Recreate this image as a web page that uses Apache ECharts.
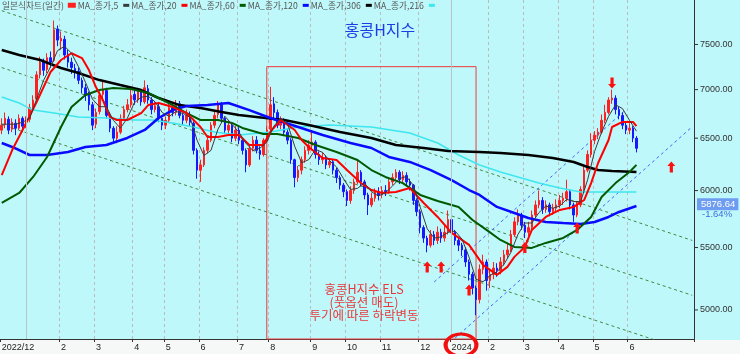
<!DOCTYPE html>
<html><head><meta charset="utf-8">
<script src="https://cdn.jsdelivr.net/npm/echarts/dist/echarts.min.js"></script>
<style>html,body{margin:0;padding:0;background:#fff}#c{width:740px;height:354px}</style>
</head><body><div id="c"></div>
<script>
// ---- data (each slot = 2 trading days) ----
const slotCount = 199;
const monthSlots  = [0,17,27,38,47,57,68,77,89,99,109,120,129,140,150,160,170,180];
const monthLabels = ['2022/12','2','3','4','5','6','7','8','9','10','11','12','2024','2','3','4','5','6'];
const yearLineSlots = [7,129];
const yTicks = [5000,5500,6000,6500,7000,7500];
const yMin = 4783, yMax = 8027;

// [open, close, low, high]
const candles = [
[6580,6630,6540,6700],[6640,6700,6600,6760],[6690,6580,6540,6720],[6590,6660,6560,6700],[6650,6600,6530,6690],
[6600,6700,6580,6740],[6700,6620,6560,6720],[6620,6680,6600,6720],[6690,6810,6660,6850],[6800,6890,6780,6940],
[6900,7160,6880,7200],[7160,7300,7120,7360],[7300,7210,7150,7340],[7220,7350,7180,7400],[7350,7300,7240,7420],
[7320,7670,7300,7780],[7680,7550,7480,7720],[7540,7570,7440,7650],[7560,7380,7330,7600],[7390,7300,7240,7440],
[7300,7240,7170,7350],[7230,7190,7120,7280],[7200,7100,7060,7240],[7100,7020,6960,7130],[7020,6940,6880,7060],
[6950,6840,6780,6980],[6840,6630,6580,6870],[6640,6760,6600,6800],[6770,6940,6740,6980],[6950,7000,6900,7100],
[6990,6730,6700,7020],[6730,6600,6560,6760],[6600,6500,6460,6620],[6500,6560,6450,6620],[6560,6700,6540,6740],
[6700,6790,6680,6830],[6790,6840,6760,6900],[6840,6940,6810,7000],[6950,6890,6840,7010],[6890,6980,6860,7020],
[6980,6870,6830,7000],[6870,7020,6850,7100],[7010,6890,6850,7050],[6890,6790,6740,6920],[6790,6830,6760,6880],
[6820,6700,6660,6850],[6700,6630,6580,6730],[6630,6680,6590,6720],[6680,6810,6660,6850],[6810,6760,6720,6860],
[6760,6850,6730,6890],[6850,6730,6700,6880],[6730,6680,6630,6760],[6680,6730,6650,6790],[6730,6660,6620,6770],
[6650,6380,6340,6670],[6380,6190,6110,6400],[6190,6240,6080,6290],[6240,6380,6220,6410],[6380,6480,6350,6520],
[6480,6630,6460,6660],[6630,6730,6600,6770],[6740,6840,6700,6880],[6840,6700,6660,6870],[6700,6580,6540,6720],
[6580,6630,6550,6680],[6630,6500,6460,6650],[6500,6580,6470,6620],[6580,6480,6440,6610],[6480,6380,6340,6500],
[6380,6240,6170,6400],[6240,6400,6220,6430],[6400,6480,6370,6520],[6480,6380,6350,6520],[6380,6340,6290,6420],
[6340,6480,6320,6500],[6480,6580,6460,6620],[6590,6840,6570,7030],[6850,6760,6700,6920],[6760,6630,6600,6790],
[6630,6680,6590,6720],[6680,6560,6520,6700],[6560,6480,6440,6590],[6480,6290,6250,6500],[6290,6120,6030,6300],
[6120,6190,6080,6230],[6190,6290,6150,6320],[6290,6380,6260,6420],[6380,6430,6340,6480],[6430,6460,6380,6580],
[6460,6340,6300,6480],[6340,6290,6240,6370],[6290,6310,6250,6360],[6310,6240,6200,6330],[6240,6270,6210,6300],
[6270,6190,6150,6290],[6190,6120,6070,6210],[6120,6050,6010,6140],[6050,5990,5940,6070],[5990,5910,5860,6010],
[5910,6000,5880,6040],[6000,6080,5970,6110],[6080,6170,6060,6290],[6170,6080,6040,6190],[6080,5960,5920,6100],
[5960,5870,5780,5980],[5870,5930,5850,5980],[5930,5990,5900,6020],[5990,5960,5910,6030],[5960,6000,5930,6040],
[6000,5990,5950,6050],[5990,6080,5970,6110],[6080,6120,6050,6160],[6120,6170,6090,6200],[6170,6100,6060,6190],
[6100,6140,6070,6180],[6140,6080,6050,6170],[6080,6050,6000,6110],[6050,5910,5870,6060],[5910,5810,5770,5930],
[5810,5670,5620,5830],[5670,5580,5540,5690],[5580,5520,5460,5600],[5520,5610,5500,5650],[5610,5560,5520,5640],
[5560,5630,5530,5680],[5630,5580,5540,5660],[5580,5630,5550,5690],[5630,5740,5610,5820],[5740,5630,5590,5760],
[5630,5560,5520,5650],[5560,5520,5470,5590],[5520,5480,5430,5540],[5480,5380,5340,5500],[5380,5280,5230,5400],
[5280,5170,5120,5300],[5170,5080,4960,5190],[5080,5320,5050,5360],[5320,5380,5280,5440],[5380,5230,5150,5400],
[5230,5280,5170,5320],[5280,5330,5240,5380],[5330,5310,5260,5370],[5310,5380,5280,5420],[5380,5440,5350,5480],
[5440,5480,5410,5540],[5480,5610,5460,5650],[5610,5720,5590,5760],[5720,5780,5690,5830],[5780,5690,5650,5800],
[5690,5630,5580,5720],[5630,5670,5600,5720],[5670,5780,5650,5820],[5780,5870,5760,5910],[5870,5910,5840,6000],
[5910,5830,5790,5940],[5830,5870,5800,5910],[5870,5810,5770,5890],[5810,5840,5780,5880],[5840,5870,5800,5920],
[5870,5910,5840,5960],[5910,5930,5870,5980],[5930,5990,5900,6100],[5990,5870,5830,6010],[5870,5780,5720,5890],
[5780,5870,5760,5900],[5870,6010,5850,6040],[6010,6190,5990,6220],[6190,6340,6170,6380],[6340,6480,6310,6550],
[6480,6530,6440,6570],[6530,6560,6490,6600],[6560,6680,6540,6740],[6680,6760,6650,6840],[6760,6890,6740,6920],
[6890,6910,6850,7000],[6910,6790,6740,6940],[6790,6730,6690,6820],[6730,6630,6590,6760],[6630,6580,6540,6660],
[6580,6600,6540,6650],[6600,6500,6460,6620],[6500,6400,6360,6520]
];

const ma5 = [[0,6640],[2,6640],[4,6640],[6,6660],[8,6700],[10,6900],[12,7100],[14,7250],[16,7430],[18,7480],[20,7400],[22,7250],[24,7080],[26,6900],[28,6820],[30,6820],[32,6680],[34,6600],[36,6700],[38,6860],[40,6920],[42,6930],[44,6870],[46,6760],[48,6720],[50,6770],[52,6750],[54,6710],[56,6480],[58,6330],[60,6380],[62,6590],[64,6720],[66,6640],[68,6560],[70,6450],[72,6380],[74,6400],[76,6460],[78,6620],[80,6700],[82,6640],[84,6420],[86,6260],[88,6290],[90,6390],[92,6360],[94,6280],[96,6220],[98,6110],[100,6010],[102,6020],[104,6070],[106,5990],[108,5950],[110,5980],[112,6040],[114,6110],[116,6130],[118,6050],[120,5850],[122,5660],[124,5580],[126,5590],[128,5630],[130,5640],[132,5570],[134,5420],[136,5240],[138,5220],[140,5270],[142,5300],[144,5360],[146,5460],[148,5610],[150,5710],[152,5710],[154,5800],[156,5860],[158,5840],[160,5860],[162,5920],[164,5900],[166,5900],[168,6100],[170,6370],[172,6560],[174,6720],[176,6840],[178,6800],[180,6680],[182,6570]];
const ma20 = [[0,6144],[3,6383],[7,6653],[10,6868],[14,7191],[17,7324],[20,7400],[23,7346],[25,7213],[27,7028],[29,6890],[31,6714],[33,6683],[36,6683],[40,6754],[42,6837],[45,6859],[49,6816],[53,6754],[57,6612],[59,6512],[62,6512],[65,6532],[68,6532],[71,6432],[75,6432],[77,6562],[80,6683],[84,6582],[86,6482],[88,6413],[92,6306],[96,6287],[99,6191],[103,6069],[106,6005],[109,5978],[113,5987],[117,6023],[121,5887],[125,5763],[129,5624],[134,5522],[138,5356],[142,5275],[145,5340],[147,5422],[150,5505],[152,5650],[156,5763],[160,5825],[164,5852],[167,5914],[169,6069],[171,6258],[174,6482],[175,6612],[178,6663],[181,6663],[182,6620]];
const ma60 = [[0,5888],[5,5978],[9,6126],[13,6316],[17,6612],[20,6816],[24,6943],[28,6996],[32,7017],[37,7007],[42,6964],[45,6911],[49,6837],[53,6754],[57,6683],[62,6683],[66,6653],[69,6602],[75,6542],[79,6542],[85,6502],[90,6432],[96,6364],[102,6287],[106,6191],[110,6126],[115,6069],[120,5960],[125,5905],[131,5852],[135,5736],[139,5650],[143,5564],[147,5505],[152,5497],[156,5539],[161,5581],[165,5650],[169,5763],[172,5941],[176,6069],[180,6172],[182,6240]];
const ma120 = [[0,6452],[3,6413],[8,6335],[13,6335],[19,6364],[24,6413],[30,6432],[36,6502],[41,6582],[45,6703],[49,6785],[53,6826],[59,6837],[65,6859],[71,6785],[77,6703],[85,6612],[92,6532],[100,6452],[106,6403],[111,6316],[117,6268],[123,6191],[129,6097],[134,6005],[137,5960],[142,5852],[147,5798],[151,5754],[156,5719],[161,5710],[166,5702],[170,5719],[174,5763],[177,5807],[182,5860]];
const ma306 = [[0,7436],[5,7380],[11,7324],[17,7235],[22,7180],[28,7103],[34,7049],[40,6996],[45,6911],[51,6837],[57,6806],[63,6764],[68,6733],[73,6714],[81,6683],[88,6632],[97,6562],[106,6502],[113,6432],[121,6403],[128,6374],[137,6364],[143,6354],[151,6335],[158,6306],[164,6268],[168,6220],[171,6191],[175,6182],[182,6172]];
const ma216 = [[0,6922],[5,6859],[9,6785],[15,6754],[22,6714],[30,6703],[38,6683],[43,6683],[49,6653],[55,6612],[61,6562],[68,6532],[77,6562],[85,6612],[94,6632],[106,6612],[117,6552],[125,6452],[131,6335],[137,6239],[143,6172],[149,6116],[154,6069],[160,6023],[166,5987],[172,5987],[182,5987]];

const trendDown = [[[0,7897],[198,5560]],[[0,7240],[198,5113]],[[0,6636],[198,4687]]];
const trendUp = [[[124,5218],[179,6791]],[[130,4790],[198,6615]]];
const upArrows = [[122,5339],[126,5339],[134,5155],[150,5500],[165,5667],[192,6220]];
const downArrows = [[175,7071]];
const boxRange = [[76,7250],[136,4783]];
const lastPrice = 5876.64, lastChangeLevel = 5790, lastChange = '-1.64%';

// ---- chart ----
const labelAt = {};
monthSlots.forEach((s,i)=>{labelAt[s]=monthLabels[i];});
const categories = Array.from({length:slotCount},(_,i)=>'s'+i);
const FONT = '"Noto Sans CJK KR", "Liberation Sans", sans-serif';

const arrowPath = 'path://M4,0 L8,5 L5.6,5 L5.6,12 L2.4,12 L2.4,5 L0,5 Z';
const markPts = upArrows.map(c=>({coord:c, symbolRotate:0}))
  .concat(downArrows.map(c=>({coord:c, symbolRotate:180})));

const yLabelLines = yTicks.map(v=>({
  yAxis:v, lineStyle:{color:'transparent',width:0},
  label:{show:true, position:'end', distance:0, formatter:'{t|}{v|'+v.toFixed(2)+'}',
    rich:{t:{width:4,height:1,backgroundColor:'#333',verticalAlign:'middle'},
          v:{padding:[0,0,0,2],color:'#333',fontSize:9,fontFamily:'"Liberation Sans", sans-serif',verticalAlign:'middle'}}}
})).concat([
  {yAxis:lastPrice, lineStyle:{color:'transparent',width:0},
   label:{show:true, position:'end', distance:3, formatter:lastPrice.toFixed(2), color:'#fff', backgroundColor:'#6e9cf0',
     padding:[1,3,1,4], fontSize:9.5, fontFamily:'"Liberation Sans", sans-serif'}},
  {yAxis:lastChangeLevel, lineStyle:{color:'transparent',width:0},
   label:{show:true, position:'end', distance:8, formatter:lastChange, color:'#3a6de0', fontSize:9.5, fontFamily:'"Liberation Sans", sans-serif'}}
]);

function lineSeries(name, data, color, width){
  return {name, type:'line', data, color, showSymbol:false, symbol:'none', z:3, silent:true,
    lineStyle:{color, width}, itemStyle:{color}, animation:false};
}

const series = [
  {name:'일본식차트(일간)', type:'candlestick', data:candles, barWidth:2, z:2,
   itemStyle:{color:'#ff2020', color0:'#1818ff', borderColor:'#ff2020', borderColor0:'#1818ff', borderWidth:1},
   markLine:{silent:true, symbol:['none','none'], animation:false, data:yLabelLines},
   markPoint:{silent:true, symbol:arrowPath, symbolSize:[8,11], itemStyle:{color:'#ff1010'}, label:{show:false}, animation:false, data:markPts},
   markArea:{silent:true, itemStyle:{color:'transparent', borderColor:'#f03a3a', borderWidth:1}, data:[[{xAxis:boxRange[0][0], yAxis:boxRange[0][1]},{xAxis:boxRange[1][0], yAxis:boxRange[1][1]}]]},
   animation:false},
  lineSeries('MA_종가,216', ma216, '#3ee6ee', 1.5),
  lineSeries('MA_종가,306', ma306, '#000000', 2.5),
  lineSeries('MA_종가,120', ma120, '#0a0aff', 2.5),
  lineSeries('MA_종가,60', ma60, '#005a00', 2),
  lineSeries('MA_종가,20', ma20, '#ff0000', 2),
  lineSeries('MA_종가,5', ma5, '#3a3a3a', 1),
];
series[1].markLine = {silent:true, symbol:['none','none'], animation:false, label:{show:false},
  lineStyle:{color:'#b9c4c4', type:'solid', width:1}, data:yearLineSlots.map(s=>({xAxis:s}))};
trendDown.forEach(d=>series.push({type:'line', data:d, showSymbol:false, symbol:'none', silent:true, z:1, animation:false,
  lineStyle:{color:'#3f8a3f', width:1, type:[3,3]}}));
trendUp.forEach(d=>series.push({type:'line', data:d, showSymbol:false, symbol:'none', silent:true, z:1, animation:false,
  lineStyle:{color:'#4a62ff', width:1, type:[3,3]}}));

const chart = echarts.init(document.getElementById('c'), null, {renderer:'canvas'});
chart.setOption({
  animation:false,
  backgroundColor:'#bff8fa',
  textStyle:{fontFamily:FONT},
  grid:{left:0, right:46, top:0, bottom:15, containLabel:false, outerBoundsMode:'none'},
  legend:{left:2, top:1, icon:'rect', itemWidth:6, itemHeight:3, itemGap:2, align:'right', padding:0,
    textStyle:{fontSize:8.7, color:'#555', fontFamily:FONT},
    data:['일본식차트(일간)','MA_종가,5','MA_종가,20','MA_종가,60','MA_종가,120','MA_종가,306','MA_종가,216']},
  xAxis:{type:'category', data:categories, boundaryGap:true,
    axisLine:{lineStyle:{color:'#333'}},
    axisTick:{show:true, interval:(i)=>labelAt[i]!==undefined, length:3, lineStyle:{color:'#333'}},
    axisLabel:{interval:(i)=>labelAt[i]!==undefined, formatter:(v,i)=>labelAt[i]||'', align:'left', margin:4,
      fontSize:9, color:'#222', fontFamily:'"Liberation Sans", sans-serif'},
    splitLine:{show:true, interval:(i)=>labelAt[i]!==undefined && yearLineSlots.indexOf(i)<0 && i!==0,
      lineStyle:{color:'#bbbbbb', type:[3,3], width:1}}},
  yAxis:{type:'log', position:'right', min:yMin, max:yMax, logBase:10,
    axisLine:{show:true, lineStyle:{color:'#333'}}, axisTick:{show:false}, axisLabel:{show:false}, splitLine:{show:false}},
  graphic:[
    {type:'rect', z:-10, shape:{x:0,y:340,width:740,height:14}, style:{fill:'#f6f7f7'}},
    {type:'text', z:50, x:380, y:30, style:{text:'홍콩H지수', fill:'#1e3ce6', font:'16px "Noto Sans CJK KR"', textAlign:'center', textVerticalAlign:'middle'}},
    {type:'text', z:50, x:364, y:302, style:{text:'홍콩H지수 ELS\n(풋옵션 매도)\n투기에 따른 하락변동', fill:'#e8383c', font:'12.5px "Noto Sans CJK KR"', lineHeight:13, textAlign:'center', textVerticalAlign:'middle'}},
    {type:'circle', z:60, x:461, y:345, scaleX:1.4, shape:{cx:0,cy:0,r:11}, style:{fill:'none', stroke:'#f01010', lineWidth:3, strokeNoScale:true}}
  ],
  series
});
</script></body></html>
